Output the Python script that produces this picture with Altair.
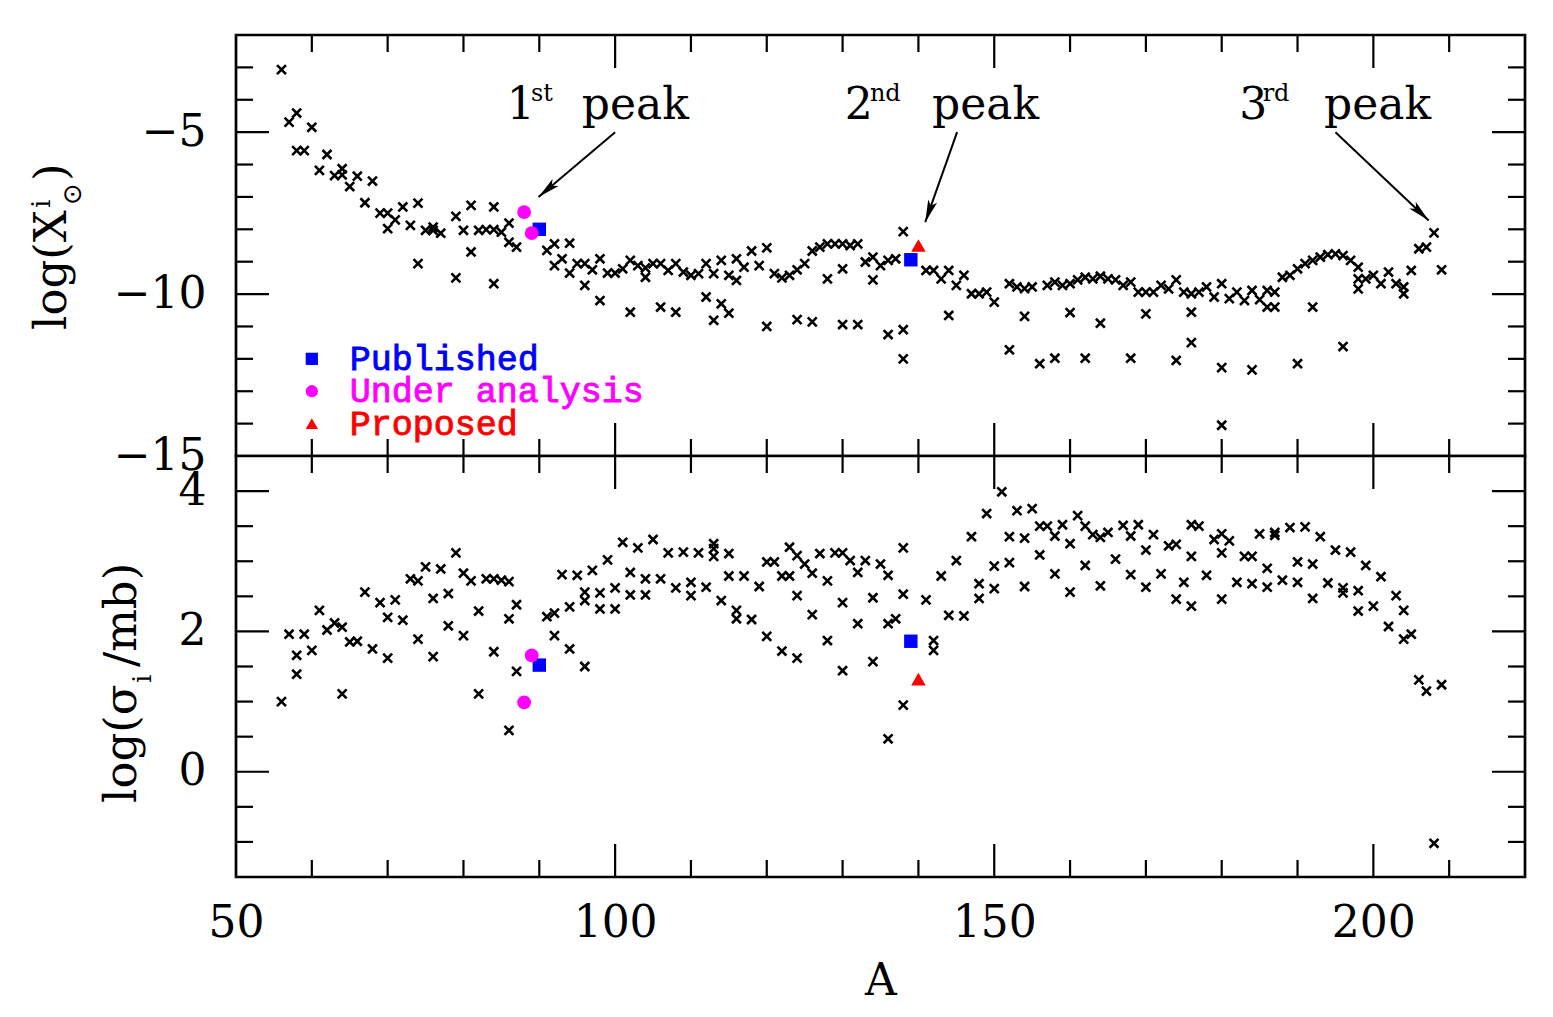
import altair as alt
import pandas as pd

# ---------------- data ----------------
# upper panel: log(X_sun^i) versus mass number A
top_A = [56, 57, 58, 60, 58, 59, 62, 61, 63, 64, 64, 66, 65, 68, 67, 69, 70, 71, 70, 72,
         73, 74, 74, 75, 76, 76, 77, 79, 79, 80, 81, 81, 82, 83, 84, 84, 84, 85, 86, 86,
         87, 91, 92, 92, 93, 94, 94, 95, 96, 97, 96, 98, 98, 99, 100, 101, 102, 102,
         103, 104, 104, 105, 106, 107, 108, 109, 110, 111, 112, 113, 114, 115, 116, 116,
         117, 118, 119, 120, 121, 122, 123, 124, 125, 126, 127, 128, 129, 130, 131, 132,
         128, 130, 133, 134, 135, 136, 137, 134, 138, 141, 142, 143, 144, 145, 146, 147,
         148, 149, 150, 152, 153, 154, 155, 157, 158, 159,
         106, 108, 112, 114, 115, 113, 120, 124, 126, 130, 132, 136, 138, 138, 144, 154,
         152, 156, 158, 160,
         160, 161, 162, 163, 164, 165, 166, 167, 168, 169, 170, 171, 172, 173, 174, 175,
         176, 177, 178, 179, 180, 181, 182, 183, 184, 185, 186, 187, 186, 187, 188, 189,
         190, 191, 192, 193, 194, 195, 196, 197, 198, 198, 198, 199, 200, 201, 202, 203,
         204, 204, 205, 206, 207, 208, 209,
         164, 170, 176, 176, 192, 162, 168, 174, 180, 184, 190, 196, 180]
top_X = [-3.07, -4.69, -4.41, -4.85, -5.57, -5.57, -5.69, -6.18, -6.34, -6.13, -6.32, -6.36,
         -6.68, -6.51, -7.18, -7.50, -7.50, -7.71, -7.98, -7.31, -7.88, -7.19, -9.06, -8.03,
         -7.93, -8.03, -8.12, -7.60, -9.50, -8.03, -7.26, -8.70, -8.03, -8.01, -8.01, -7.31,
         -9.68, -8.09, -7.81, -8.40, -8.55, -8.65, -8.45, -9.12, -8.91, -8.43, -9.35, -9.06,
         -9.06, -9.25, -9.73, -8.91, -10.20, -9.35, -9.35, -9.22, -8.96, -10.56,
         -9.12, -9.48, -9.19, -9.06, -9.06, -9.27, -9.06, -9.32, -9.42, -9.37, -9.06, -9.37,
         -8.96, -9.42, -9.58, -8.91, -9.17, -8.67, -9.12, -8.57, -9.37, -9.50, -9.42, -9.25,
         -9.06, -8.67, -8.55, -8.45, -8.45, -8.45, -8.50, -8.45, -9.53, -9.22, -9.01, -8.86,
         -9.12, -8.96, -8.91, -9.56, -8.07, -9.27, -9.27, -9.53, -9.27, -9.73, -9.42, -9.99,
         -9.99, -9.94, -10.25, -9.68, -9.78, -9.83, -9.78, -9.73, -9.63, -9.73,
         -10.40, -10.56, -10.09, -10.30, -10.59, -10.81, -11.00, -10.79, -10.86, -10.94,
         -10.94, -11.25, -11.10, -12.00, -10.66, -10.69, -11.72, -12.15, -11.98, -10.57,
         -9.68, -9.56, -9.48, -9.53, -9.45, -9.53, -9.56, -9.73, -9.63, -9.94, -9.94, -9.94,
         -9.73, -9.84, -9.56, -9.94, -9.99, -9.94, -9.78, -10.09, -9.68, -10.14, -9.94,
         -10.20, -9.89, -10.17, -9.89, -9.94, -10.40, -10.40, -9.48, -9.42, -9.22, -9.06,
         -8.96, -8.86, -8.78, -8.76, -8.81, -8.96, -9.17, -9.53, -9.84, -9.53, -9.42, -9.68,
         -9.32, -9.68, -9.99, -9.78, -9.27, -8.60, -8.55, -8.11, -9.25,
         -10.90, -10.61, -10.56, -11.50, -10.40, -11.98, -11.98, -12.05, -12.27, -12.34,
         -12.15, -11.62, -14.05]

# lower panel: log(sigma_i / mb) versus A
bot_A = [56, 57, 58, 58, 59, 60, 61, 62, 63, 64, 64, 65, 66, 67, 68, 69, 70, 70, 71, 72,
         73, 74, 74, 75, 76, 76, 77, 78, 78, 79, 80, 81, 80, 82, 82, 83, 84, 85, 86, 84,
         86, 87, 87, 86, 91, 92, 92, 93, 94, 94, 95, 96, 96, 96, 97, 98, 98, 99, 100, 100,
         101, 102, 102,
         103, 104, 104, 105, 106, 107, 108, 109, 110, 110, 111, 112, 113, 113, 113, 114,
         115, 115, 116, 116, 117, 118, 119, 120, 121, 120, 122, 123, 122, 123, 124, 125,
         126, 124, 124, 126, 127, 128, 128, 129, 130, 130, 130, 131, 132, 133, 135, 132,
         134, 134, 136, 136, 137, 136, 138, 138, 138, 141, 142, 142, 143, 144, 146, 145,
         147, 148, 148, 149, 150, 150, 151, 152, 152, 153, 154, 154, 155, 156, 157, 158,
         156, 158, 159, 160, 160,
         161, 162, 162, 163, 164, 165, 164, 166, 167, 168, 169, 168, 170, 170, 171, 172,
         173, 174, 174, 175, 176, 177, 176, 176, 178, 179, 180, 181, 180, 180, 183, 184,
         182, 184, 185, 186, 186, 187, 187, 188, 189, 190, 190, 191, 192, 192, 193, 194,
         195, 196, 196, 197, 198, 198, 199, 200, 201, 202, 203, 204, 204, 205, 206, 207,
         209, 208]
bot_S = [1.00, 1.96, 1.66, 1.39, 1.96, 1.73, 2.30, 2.02, 2.12, 2.06, 1.11, 1.85, 1.86, 2.56,
         1.75, 2.41, 2.20, 1.62, 2.45, 2.16, 2.75, 2.72, 1.89, 2.92, 2.47, 1.64, 2.89, 2.54,
         2.08, 3.12, 2.83, 2.72, 1.94, 2.29, 1.11, 2.75, 2.75, 2.73, 2.71, 1.71, 2.18, 2.38,
         1.43, 0.59, 2.21, 2.26, 1.94, 2.81, 2.35, 1.75, 2.80, 2.56, 2.44, 1.50, 2.87, 2.55,
         2.32, 3.02, 2.62, 2.32, 3.27, 2.84, 2.52,
         3.19, 2.75, 2.52, 3.31, 2.75, 3.12, 2.62, 3.13, 2.70, 2.51, 3.12, 2.63, 3.25, 3.18,
         3.07, 2.44, 3.11, 2.79, 2.30, 2.18, 2.79, 2.17, 2.64, 2.99, 2.99, 1.93, 2.79, 2.79,
         1.72, 3.20, 3.08, 2.96, 2.83, 1.62, 2.51, 2.24, 3.11, 2.72, 1.87, 3.12, 3.12, 2.41,
         1.44, 3.01, 2.84, 3.01, 2.96, 2.11, 2.48, 1.57, 2.80, 2.11, 2.18, 0.47, 3.19, 2.53,
         0.95, 2.45, 1.87, 1.73, 2.79, 2.23, 2.22, 3.01, 3.35, 2.68, 2.47, 3.68, 2.93, 2.61,
         3.99, 3.35, 2.98, 3.72, 3.33, 2.64, 3.75, 3.50, 3.50, 3.36, 3.09, 2.82, 3.52, 3.25,
         2.56,
         3.65, 3.50, 2.94, 3.38, 3.34, 3.41, 2.65, 3.03, 3.51, 3.36, 3.52, 2.81, 3.16, 2.63,
         3.38, 2.82, 3.22, 3.24, 2.46, 2.70, 3.52, 3.50, 3.07, 2.36, 2.80, 3.31, 3.39, 3.29,
         3.12, 2.46, 3.07, 3.07, 2.70, 2.68, 3.39, 2.90, 2.63, 3.41, 3.37, 2.73, 3.48, 2.99,
         2.70, 3.49, 2.96, 2.47, 3.35, 2.69, 3.16, 2.62, 2.55, 3.13, 2.58, 2.29, 2.94, 2.36,
         2.78, 2.07, 2.51, 2.30, 1.89, 1.96, 1.31, 1.15, 1.24, -1.02]

# highlighted isotopes
pub_A = [90, 139]
pub_top = [-8.00, -8.94]
pub_bot = [1.52, 1.86]
ua_A = [88, 89]
ua_top = [-7.47, -8.12]
ua_bot = [0.99, 1.66]
pr_A = [140]
pr_top = [-8.50]
pr_bot = [1.32]

# legend (placed in data units of the upper panel)
leg_labels = ["Published", "Under analysis", "Proposed"]
leg_colors = ["#0000ff", "#ff00ff", "#ff0000"]
leg_y = [-12, -13, -14]
leg_mark_A = 60
leg_text_A = 65

# peak annotations (text pieces and arrows, data units of the upper panel)
peak_txt = ["1", "st", "peak", "2", "nd", "peak", "3", "rd", "peak"]
peak_txt_A = [85.7, 88.9, 95.6, 130.3, 133.6, 141.8, 182.3, 185.4, 193.5]
peak_txt_y = [-4.58, -4.05, -4.58, -4.58, -4.05, -4.58, -4.58, -4.05, -4.58]
peak_txt_fs = [44, 24, 44, 44, 24, 44, 44, 24, 44]
arr_A0 = [100.0, 145.1, 195.0]
arr_y0 = [-5.0, -5.0, -5.0]
arr_A1 = [89.9, 140.9, 207.3]
arr_y1 = [-7.0, -7.78, -7.73]
arr_ang = [49.7, 19.4, 313.4]

x_minor = [60, 70, 80, 90, 110, 120, 130, 140, 160, 170, 180, 190, 210]
x_major = [100, 150, 200]
top_minor = [-3, -4, -6, -7, -8, -9, -11, -12, -13, -14]
top_major = [-5, -10]
top_labels = [-15, -10, -5]
bot_minor = [-1, -0.5, 0.5, 1, 1.5, 2.5, 3, 3.5]
bot_major = [0, 2, 4]
bot_labels = [0, 2, 4]
x_labels = [50, 100, 150, 200]

# ---------------- chart ----------------
W, H = 1289, 421
SERIF = "DejaVu Serif"
XS = alt.Scale(domain=[50, 220], nice=False, zero=False)
CROSS = "M-1,-1L1,1M-1,1L1,-1"
HEAD = "M0,0L-0.42,-2L0,-1.55L0.42,-2Z"
FRAME = alt.ViewBackground(stroke="black", strokeWidth=2.7, fill="white")


def panel(yfield, ydomain, pts_A, pts_v, pubv, uav, prv, yminor, ymajor, ylabels, xaxis):
    YS = alt.Scale(domain=ydomain, nice=False, zero=False)
    yaxis = alt.Axis(values=ylabels, ticks=False, tickSize=0, domain=False, grid=False,
                     labelFont=SERIF, labelFontSize=44, labelPadding=30, labelColor="black",
                     title=None)

    def X():
        return alt.X("A:Q", scale=XS, axis=xaxis, title=None if xaxis is None else "A")

    def Y():
        return alt.Y(f"{yfield}:Q", scale=YS, axis=yaxis, title=None)

    layers = []
    d = pd.DataFrame({"A": pts_A, yfield: pts_v})
    layers.append(alt.Chart(d).mark_point(shape=CROSS, filled=False, color="black",
                                          strokeWidth=2.6, size=80, opacity=1)
                  .encode(x=X(), y=Y()))
    d = pd.DataFrame({"A": pub_A, yfield: pubv})
    layers.append(alt.Chart(d).mark_point(shape="square", filled=True, color="#0000ff",
                                          size=180, opacity=1).encode(x=X(), y=Y()))
    d = pd.DataFrame({"A": ua_A, yfield: uav})
    layers.append(alt.Chart(d).mark_point(shape="circle", filled=True, color="#ff00ff",
                                          size=190, opacity=1).encode(x=X(), y=Y()))
    d = pd.DataFrame({"A": pr_A, yfield: prv})
    layers.append(alt.Chart(d).mark_point(shape="triangle-up", filled=True, color="#ff0000",
                                          size=210, opacity=1).encode(x=X(), y=Y()))
    # inward ticks on all four sides
    rule = dict(color="black", strokeWidth=2.2)
    for vals, L in [(x_minor, 17), (x_major, 33)]:
        d = pd.DataFrame({"A": vals})
        layers.append(alt.Chart(d).mark_rule(**rule).encode(
            x=X(), y=alt.value(0), y2=alt.value(L)))
        layers.append(alt.Chart(d).mark_rule(**rule).encode(
            x=X(), y=alt.value(H), y2=alt.value(H - L)))
    for vals, L in [(yminor, 17), (ymajor, 33)]:
        d = pd.DataFrame({yfield: vals})
        layers.append(alt.Chart(d).mark_rule(**rule).encode(
            y=Y(), x=alt.value(0), x2=alt.value(L)))
        layers.append(alt.Chart(d).mark_rule(**rule).encode(
            y=Y(), x=alt.value(W), x2=alt.value(W - L)))
    return layers, X, Y


def title_piece(text, px, py, fs, font=SERIF):
    return alt.Chart(pd.DataFrame({"t": [text]})).mark_text(
        angle=270, align="left", baseline="alphabetic", font=font, fontSize=fs,
        color="black").encode(x=alt.value(px), y=alt.value(py), text="t:N")


# upper panel
top_layers, XT, YT = panel("lx", [-15, -2], top_A, top_X, pub_top, ua_top, pr_top,
                           top_minor, top_major, top_labels, None)

arr = pd.DataFrame({"A": arr_A0, "lx": arr_y0, "A2": arr_A1, "lx2": arr_y1})
top_layers.append(alt.Chart(arr).mark_rule(color="black", strokeWidth=2).encode(
    x=XT(), y=YT(), x2="A2:Q", y2="lx2:Q"))
heads = pd.DataFrame({"A": arr_A1, "lx": arr_y1, "ang": arr_ang})
top_layers.append(alt.Chart(heads).mark_point(shape=HEAD, filled=True, color="black",
                                              size=500, opacity=1).encode(
    x=XT(), y=YT(), angle=alt.Angle("ang:Q", scale=None)))
ptxt = pd.DataFrame({"A": peak_txt_A, "lx": peak_txt_y, "t": peak_txt, "fs": peak_txt_fs})
top_layers.append(alt.Chart(ptxt).mark_text(align="left", baseline="alphabetic", font=SERIF,
                                            color="black").encode(
    x=XT(), y=YT(), text="t:N", size=alt.Size("fs:Q", scale=None)))

leg = pd.DataFrame({"A": [leg_mark_A] * 3, "lx": leg_y, "c": leg_colors,
                    "t": leg_labels, "At": [leg_text_A] * 3})
for i, shp in enumerate(["square", "circle", "triangle-up"]):
    top_layers.append(alt.Chart(leg.iloc[[i]]).mark_point(shape=shp, filled=True, size=150,
                                                          opacity=1).encode(
        x=XT(), y=YT(), color=alt.Color("c:N", scale=None)))
top_layers.append(alt.Chart(leg).mark_text(align="left", baseline="middle",
                                           font="Liberation Mono", fontSize=35,
                                           strokeWidth=0.9).encode(
    x=alt.X("At:Q", scale=XS, axis=None), y=YT(), text="t:N",
    color=alt.Color("c:N", scale=None), stroke=alt.Stroke("c:N", scale=None)))

top_layers += [
    title_piece("log(X", -170, 295, 45),
    title_piece("i", -186, 173, 26),
    title_piece("\u2299", -155, 170, 26, "DejaVu Sans"),
    title_piece(")", -170, 146, 45),
]

top = alt.layer(*top_layers).properties(width=W, height=H, view=FRAME)

# lower panel
xaxis = alt.Axis(values=x_labels, ticks=False, tickSize=0, domain=False, grid=False,
                 labelFlush=False, labelFont=SERIF, labelFontSize=44, labelPadding=24,
                 labelColor="black", title="A", titleFont=SERIF, titleFontSize=44,
                 titleFontWeight="normal", titleColor="black", titlePadding=14)
bot_layers, XB, YB = panel("ls", [-1.5, 4.5], bot_A, bot_S, pub_bot, ua_bot, pr_bot,
                           bot_minor, bot_major, bot_labels, xaxis)
bot_layers += [
    title_piece("log(\u03c3", -100, 347, 45),
    title_piece("i", -85, 227, 26),
    title_piece("/mb)", -100, 211, 45),
]
bottom = alt.layer(*bot_layers).properties(width=W, height=H, view=FRAME)

chart = alt.vconcat(top, bottom, spacing=0, bounds="flush").resolve_scale(
    y="independent").properties(
    padding={"left": 19, "top": 24, "right": 2, "bottom": 2}
).configure_view(stroke="black", strokeWidth=2.7).configure(background="white")

chart.save("out.html", embed_options={"renderer": "svg", "actions": False})
